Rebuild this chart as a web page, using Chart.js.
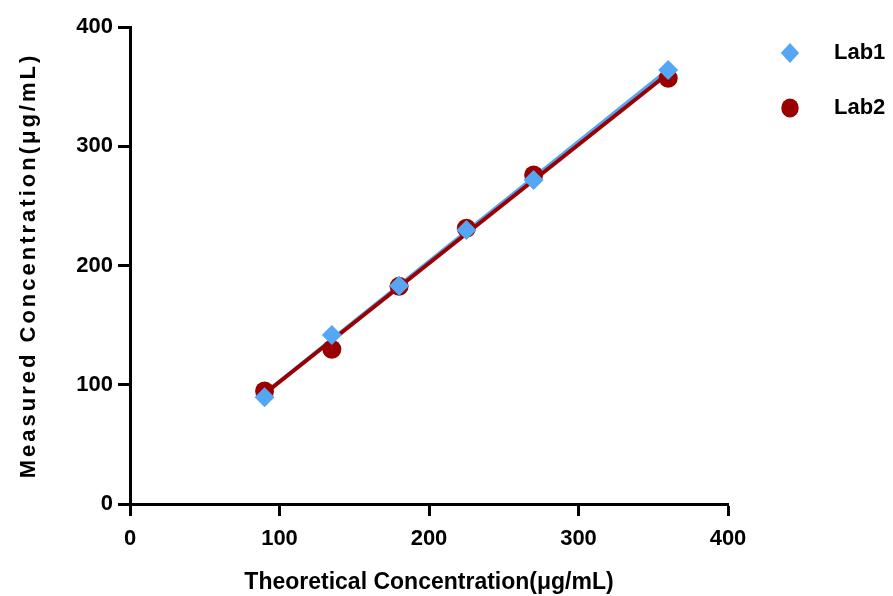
<!DOCTYPE html>
<html lang="en">
<head>
<meta charset="utf-8"/>
<title>Theoretical vs Measured Concentration</title>
<script src="https://cdn.jsdelivr.net/npm/chart.js@4.4.3/dist/chart.umd.min.js"></script>
<style>
  html, body { margin: 0; padding: 0; background: #fff; }
  #wrap { position: relative; width: 893px; height: 596px; }
</style>
</head>
<body>
<div id="wrap"><canvas id="chart"></canvas></div>
<script>
// values
const theoretical = [90, 135, 180, 225, 270, 360];
const lab1 = [89.5, 141.7, 183.0, 229.8, 271.7, 363.9];
const lab2 = [94.8, 129.7, 182.5, 231.2, 275.9, 357.0];
// fitted lines, read at both ends of the range
const fitX = [90, 360];
const lab1Fit = [92.7, 364.0];
const lab2Fit = [92.5, 361.0];
const xTicks = [0, 100, 200, 300, 400];
const yTicks = [0, 100, 200, 300, 400];

const BLUE = '#56a6f6';
const RED = '#9b0000';
const FONT = '"Liberation Sans", Arial, sans-serif';

const pts = (xs, ys) => xs.map((x, i) => ({ x, y: ys[i] }));

// legend to the right of the plot, markers and labels spaced like the original
const sideLegend = {
  id: 'sideLegend',
  afterDraw(chart) {
    const { ctx, chartArea } = chart;
    const items = chart.data.datasets.filter((d) => d.inLegend);
    ctx.save();
    items.forEach((d, i) => {
      const cx = chartArea.right + 62;
      const cy = chartArea.top + 26 + i * 55;
      const r = d.pointRadius;
      ctx.fillStyle = d.backgroundColor;
      ctx.beginPath();
      if (d.pointStyle === 'rectRot') {
        ctx.moveTo(cx, cy - r);
        ctx.lineTo(cx + r * 0.92, cy);
        ctx.lineTo(cx, cy + r);
        ctx.lineTo(cx - r * 0.92, cy);
        ctx.closePath();
      } else {
        ctx.ellipse(cx, cy, r * 0.92, r, 0, 0, Math.PI * 2);
      }
      ctx.fill();
      ctx.fillStyle = '#000';
      ctx.font = 'bold 22px ' + FONT;
      ctx.textBaseline = 'middle';
      ctx.textAlign = 'left';
      ctx.fillText(d.label, cx + 44, cy);
    });
    ctx.restore();
  },
};

// the y title in the original is letter-spaced
const spacedYTitle = {
  id: 'spacedYTitle',
  afterLayout(chart) {
    const s = chart.scales.y;
    if (!s || s._spaced) return;
    const orig = s.drawTitle;
    s.drawTitle = function () {
      this.ctx.save();
      this.ctx.letterSpacing = '3px';
      orig.call(this);
      this.ctx.restore();
    };
    s._spaced = true;
  },
};

const axisGrid = {
  display: true,
  drawOnChartArea: false,
  drawTicks: true,
  tickLength: 12,
  tickWidth: 3,
  tickColor: '#000',
};

new Chart(document.getElementById('chart'), {
  type: 'scatter',
  data: {
    datasets: [
      {
        label: 'Lab1', inLegend: true,
        data: pts(theoretical, lab1),
        pointStyle: 'rectRot', pointRadius: 10, pointBorderWidth: 0,
        backgroundColor: BLUE, borderColor: BLUE, showLine: false,
      },
      {
        label: 'Lab2', inLegend: true,
        data: pts(theoretical, lab2),
        pointStyle: 'circle', pointRadius: 9.5, pointBorderWidth: 0,
        backgroundColor: RED, borderColor: RED, showLine: false,
      },
      {
        label: 'Lab2 fit',
        data: pts(fitX, lab2Fit),
        showLine: true, pointRadius: 0, borderColor: RED, borderWidth: 4,
      },
      {
        label: 'Lab1 fit',
        data: pts(fitX, lab1Fit),
        showLine: true, pointRadius: 0, borderColor: BLUE, borderWidth: 4,
      },
    ],
  },
  options: {
    responsive: true,
    maintainAspectRatio: false,
    animation: false,
    layout: { padding: { top: 27, right: 165, left: 0, bottom: 0 } },
    plugins: { legend: { display: false }, tooltip: { enabled: false } },
    scales: {
      x: {
        type: 'linear', min: 0, max: 400,
        afterBuildTicks: (s) => { s.ticks = xTicks.map((v) => ({ value: v })); },
        afterFit: (s) => { s.height = 92; },
        grid: axisGrid,
        border: { color: '#000', width: 3 },
        ticks: { color: '#000', padding: 10, font: { family: FONT, size: 22, weight: 'bold' } },
        title: {
          display: true, text: 'Theoretical Concentration(μg/mL)', color: '#000',
          padding: 0, font: { family: FONT, size: 23, weight: 'bold', lineHeight: 1.2 },
        },
      },
      y: {
        type: 'linear', min: 0, max: 400,
        afterBuildTicks: (s) => { s.ticks = yTicks.map((v) => ({ value: v })); },
        afterFit: (s) => { s.width = 130; },
        grid: axisGrid,
        border: { color: '#000', width: 3 },
        ticks: { color: '#000', padding: 5, font: { family: FONT, size: 22, weight: 'bold' } },
        title: {
          display: true, text: 'Measured Concentration(μg/mL)', color: '#000',
          padding: { top: 16, bottom: 0 }, font: { family: FONT, size: 22, weight: 'bold', lineHeight: 1.2 },
        },
      },
    },
  },
  plugins: [sideLegend, spacedYTitle],
});
</script>
</body>
</html>
